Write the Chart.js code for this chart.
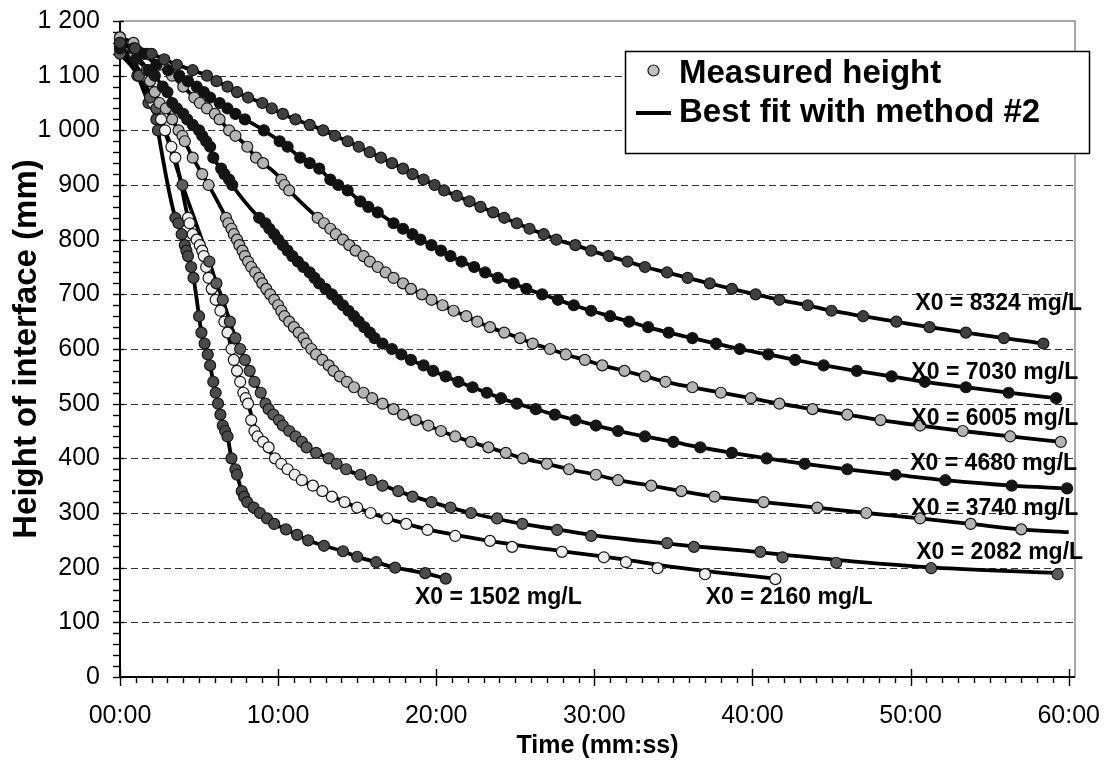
<!DOCTYPE html>
<html>
<head>
<meta charset="utf-8">
<title>Settling curves</title>
<script src="https://cdn.jsdelivr.net/npm/chart.js@4.4.1/dist/chart.umd.min.js"></script>
<style>
  html, body { margin: 0; padding: 0; background: #ffffff; }
  #wrap { width: 1109px; height: 764px; }
</style>
</head>
<body>
<div id="wrap"><canvas id="chart" width="1109" height="764"></canvas></div>
<script>
// Interface height (mm) against settling time (minutes) for eight initial solids concentrations.

const t8324 = [0, 0.95, 2.0, 2.8, 3.6, 4.6, 5.5, 6.1, 6.8, 7.4, 8.1, 9.0, 9.6, 10.3, 11.1, 12.0, 12.85, 13.6, 14.4, 15.1, 15.8, 16.5, 17.2, 17.9, 18.5, 19.2, 19.9, 20.5, 21.3, 22.1, 22.8, 23.6, 24.3, 25.1, 25.9, 26.8, 27.6, 28.8, 29.8, 30.9, 32.1, 33.2, 34.6, 35.9, 37.3, 38.7, 40.2, 41.7, 43.5, 45.0, 47.0, 49.1, 51.2, 53.5, 55.9, 58.4];
const h8324 = [1160, 1150, 1140, 1130, 1120, 1110, 1100, 1090, 1080, 1070, 1060, 1050, 1040, 1030, 1020, 1010, 1000, 990, 980, 970, 960, 950, 940, 930, 920, 910, 900, 890, 880, 870, 860, 850, 840, 830, 820, 810, 800, 790, 780, 770, 760, 750, 740, 730, 720, 710, 700, 690, 680, 670, 660, 650, 640, 630, 620, 610];

const t7030 = [0, 0.85, 1.5, 2.3, 3.05, 3.75, 4.3, 4.85, 5.3, 5.7, 6.3, 6.8, 7.3, 7.9, 9.1, 10.1, 10.6, 11.4, 12.0, 12.6, 13.3, 13.8, 14.4, 15.2, 15.7, 16.3, 17.3, 17.9, 18.5, 19.0, 19.7, 20.3, 20.9, 21.6, 22.4, 23.1, 23.9, 24.9, 25.7, 26.7, 27.7, 28.7, 29.8, 31.0, 32.2, 33.4, 34.7, 36.2, 37.7, 39.2, 41.0, 42.7, 44.5, 46.6, 48.8, 50.9, 53.5, 56.2, 59.2];
const h7030 = [1160, 1150, 1140, 1120, 1110, 1100, 1090, 1080, 1070, 1060, 1050, 1040, 1030, 1020, 1000, 980, 970, 950, 940, 930, 910, 900, 890, 870, 860, 850, 830, 820, 810, 800, 790, 780, 770, 760, 750, 740, 730, 720, 710, 700, 690, 680, 670, 660, 650, 640, 630, 620, 610, 600, 590, 580, 570, 560, 550, 540, 530, 520, 510];

const t6005 = [0, 0.85, 1.7, 2.5, 3.3, 4.0, 4.7, 5.05, 5.5, 6.0, 6.3, 6.9, 7.3, 8.05, 8.6, 9.05, 10.2, 10.4, 10.7, 12.5, 12.9, 13.3, 13.65, 14.1, 14.5, 14.9, 15.4, 15.8, 16.3, 16.8, 17.3, 17.9, 18.4, 19.1, 19.7, 20.4, 21.1, 21.9, 22.6, 23.4, 24.3, 25.3, 26.1, 27.2, 28.2, 29.4, 30.5, 31.9, 33.2, 34.5, 36.2, 38.0, 39.9, 41.7, 43.8, 46.0, 48.1, 50.6, 53.3, 56.3, 59.5];
const h6005 = [1170, 1160, 1140, 1120, 1100, 1080, 1060, 1050, 1040, 1030, 1020, 1000, 990, 970, 950, 940, 910, 900, 890, 840, 830, 820, 810, 800, 790, 780, 770, 760, 750, 740, 730, 720, 710, 700, 690, 680, 670, 660, 650, 640, 630, 620, 610, 600, 590, 580, 570, 560, 550, 540, 530, 520, 510, 500, 490, 480, 470, 460, 450, 440, 430];

const t4680 = [0, 1.0, 1.8, 2.2, 2.7, 3.0, 3.3, 3.6, 4.0, 4.25, 4.6, 5.0, 5.2, 5.45, 5.7, 5.9, 6.4, 6.6, 6.9, 7.1, 8.8, 9.2, 9.45, 9.75, 10.0, 10.3, 10.6, 10.9, 11.25, 11.6, 12.0, 12.3, 12.6, 13.0, 13.4, 13.75, 14.1, 14.45, 14.8, 15.1, 15.45, 15.8, 16.1, 16.6, 17.2, 17.8, 18.4, 19.2, 19.8, 20.6, 21.4, 22.3, 23.2, 24.1, 25.1, 26.3, 27.5, 28.8, 30.1, 31.5, 33.2, 35.0, 36.7, 38.7, 40.9, 43.3, 46.0, 49.05, 52.2, 56.4, 59.9];
const h4680 = [1150, 1130, 1110, 1100, 1080, 1070, 1050, 1040, 1030, 1020, 1010, 1000, 990, 980, 970, 950, 930, 920, 910, 900, 840, 830, 820, 810, 800, 790, 780, 770, 760, 750, 740, 730, 720, 710, 700, 690, 680, 670, 660, 650, 640, 630, 620, 610, 600, 590, 580, 570, 560, 550, 540, 530, 520, 510, 500, 490, 480, 470, 460, 450, 440, 430, 420, 410, 400, 390, 380, 370, 360, 350, 345];

const t3740 = [0, 0.9, 1.7, 1.9, 2.2, 2.5, 2.9, 3.3, 3.7, 3.95, 4.1, 4.6, 5.2, 5.6, 6.7, 6.85, 7.05, 7.2, 7.4, 7.55, 7.75, 7.9, 8.1, 8.3, 8.55, 8.8, 9.0, 9.25, 9.5, 9.75, 10.0, 10.2, 10.4, 10.7, 11.0, 11.3, 11.6, 11.8, 12.1, 12.4, 12.8, 13.2, 13.5, 13.9, 14.35, 14.8, 15.4, 15.95, 16.6, 17.3, 17.9, 18.7, 19.5, 20.3, 21.2, 22.2, 23.3, 24.4, 25.5, 27.0, 28.4, 30.1, 31.5, 33.6, 35.5, 37.6, 40.7, 44.1, 47.2, 50.6, 53.8, 57.0];
const h3740 = [1170, 1140, 1110, 1090, 1070, 1050, 1040, 1020, 1000, 990, 980, 950, 920, 900, 840, 830, 820, 810, 800, 790, 780, 770, 760, 750, 740, 730, 720, 710, 700, 690, 680, 670, 660, 650, 640, 630, 620, 610, 600, 590, 580, 570, 560, 550, 540, 530, 520, 510, 500, 490, 480, 470, 460, 450, 440, 430, 420, 410, 400, 390, 380, 370, 360, 350, 340, 330, 320, 310, 300, 290, 280, 270];
// the fitted 3740 curve runs on past the last reading
const fitTailT3740 = [60];
const fitTailH3740 = [265];

const t2082 = [0, 1.2, 1.9, 2.3, 3.95, 5.65, 6.1, 6.5, 6.95, 7.3, 7.6, 7.9, 8.2, 8.5, 8.9, 9.2, 9.4, 9.7, 10.05, 10.3, 10.7, 11.1, 11.5, 11.8, 12.4, 13.2, 13.7, 14.3, 15.2, 15.9, 16.6, 17.6, 18.5, 19.7, 20.9, 22.2, 23.85, 25.45, 27.65, 29.8, 34.6, 36.3, 40.5, 41.9, 45.3, 51.3, 59.3];
const h2082 = [1140, 1100, 1060, 1040, 900, 760, 720, 690, 650, 620, 600, 580, 560, 540, 520, 500, 490, 480, 470, 460, 450, 440, 430, 420, 410, 400, 390, 380, 370, 360, 350, 340, 330, 320, 310, 300, 290, 280, 269, 258, 245, 238, 229, 219, 209, 199, 188];
// fitted 2082 curve
const fitT2082 = [0, 1.2, 1.9, 2.3, 3.95, 5.65, 6.1, 6.5, 6.95, 7.3, 7.6, 7.9, 8.2, 8.5, 8.9, 9.2, 9.7, 10.3, 11.1, 11.8, 13.2, 14.3, 15.9, 17.6, 19.7, 22.2, 25.45, 27.65, 30.0, 33.0, 36.0, 39.5, 42.5, 46.5, 51.5, 59.3];
const fitH2082 = [1140, 1100, 1060, 1040, 900, 760, 720, 690, 650, 620, 600, 580, 560, 540, 520, 500, 480, 460, 440, 420, 400, 380, 360, 340, 320, 300, 280, 270, 259, 249, 240, 231, 222, 211, 200, 190];

const t2160 = [0, 1.4, 2.1, 2.6, 2.85, 3.25, 3.5, 4.3, 4.4, 4.6, 4.85, 5.05, 5.2, 5.3, 5.45, 5.6, 5.8, 6.05, 6.35, 6.6, 6.8, 7.05, 7.2, 7.4, 7.6, 7.8, 7.95, 8.1, 8.3, 8.5, 8.7, 9.05, 9.4, 9.8, 10.2, 10.6, 11.05, 11.5, 12.2, 12.8, 13.4, 14.2, 15.0, 15.85, 16.9, 18.1, 19.45, 21.2, 23.4, 24.8, 27.95, 30.6, 32.0, 34.0, 37.0, 41.45];
const h2160 = [1160, 1100, 1050, 1020, 1000, 970, 950, 840, 830, 810, 800, 790, 780, 770, 750, 730, 710, 690, 670, 650, 630, 600, 580, 560, 540, 520, 510, 500, 470, 450, 440, 430, 420, 400, 390, 380, 370, 360, 350, 340, 330, 320, 310, 300, 290, 280, 269, 258, 249, 238, 229, 219, 210, 199, 188, 179];
// fitted 2160 curve
const fitT2160 = [0, 1.4, 2.1, 2.6, 2.85, 3.25, 3.5, 4.3, 4.4, 4.6, 4.85, 5.05, 5.2, 5.3, 5.45, 5.6, 5.8, 6.05, 6.35, 6.6, 6.8, 7.05, 7.2, 7.4, 7.6, 7.8, 8.1, 8.5, 9.05, 9.8, 10.6, 11.5, 12.8, 14.2, 15.85, 18.1, 19.45, 21.2, 23.2, 25.4, 28.0, 30.6, 32.8, 34.8, 37.6, 41.45];
const fitH2160 = [1160, 1100, 1050, 1020, 1000, 970, 950, 840, 830, 810, 800, 790, 780, 770, 750, 730, 710, 690, 670, 650, 630, 600, 580, 560, 540, 520, 500, 460, 430, 400, 380, 360, 340, 320, 300, 280, 270, 260, 250, 240, 230, 220, 211, 202, 192, 180];

const t1502 = [0, 1.1, 1.8, 2.3, 2.4, 3.5, 3.7, 3.9, 4.1, 4.2, 4.3, 4.5, 4.65, 5.0, 5.15, 5.35, 5.55, 5.7, 5.9, 6.05, 6.2, 6.35, 6.5, 6.65, 6.8, 7.05, 7.3, 7.4, 7.7, 7.85, 8.05, 8.45, 8.85, 9.3, 9.75, 10.5, 11.2, 11.9, 12.9, 14.1, 15.0, 16.2, 17.4, 19.3, 20.6];
const h1502 = [1150, 1100, 1050, 1020, 1000, 840, 830, 810, 790, 780, 770, 750, 730, 660, 630, 610, 590, 570, 540, 520, 500, 480, 460, 450, 440, 400, 380, 370, 340, 330, 320, 310, 300, 290, 280, 270, 260, 250, 240, 230, 220, 210, 200, 190, 180];

const xTickValues = [0, 10, 20, 30, 40, 50, 60];
const yTickValues = [0, 100, 200, 300, 400, 500, 600, 700, 800, 900, 1000, 1100, 1200];
const legendLabels = ['Measured height', 'Best fit with method #2'];

// curve captions, anchored in data units (left edge, text baseline)
const captions = [
  { text: 'X0 = 8324 mg/L', t: 50.3,  h: 672 },
  { text: 'X0 = 7030 mg/L', t: 50.05, h: 546 },
  { text: 'X0 = 6005 mg/L', t: 50.05, h: 461 },
  { text: 'X0 = 4680 mg/L', t: 49.98, h: 378 },
  { text: 'X0 = 3740 mg/L', t: 50.05, h: 296 },
  { text: 'X0 = 2082 mg/L', t: 50.36, h: 215 },
  { text: 'X0 = 1502 mg/L', t: 18.65, h: 133 },
  { text: 'X0 = 2160 mg/L', t: 37.04, h: 133 }
];

const FONT = '"Liberation Sans", Arial, Helvetica, sans-serif';

const curves = [
  { t: t8324, h: h8324, fill: '#404040' },
  { t: t7030, h: h7030, fill: '#111111' },
  { t: t6005, h: h6005, fill: '#b4b4b4' },
  { t: t4680, h: h4680, fill: '#161616' },
  { t: t3740, h: h3740, fill: '#b4b4b4', fitT: t3740.concat(fitTailT3740), fitH: h3740.concat(fitTailH3740) },
  { t: t2082, h: h2082, fill: '#5c5c5c', fitT: fitT2082, fitH: fitH2082 },
  { t: t2160, h: h2160, fill: '#efefef', fitT: fitT2160, fitH: fitH2160 },
  { t: t1502, h: h1502, fill: '#4a4a4a' }
];

const toXY = (ts, hs) => ts.map((v, i) => ({ x: v, y: hs[i] }));

const datasets = [];
curves.forEach(c => {
  datasets.push({
    data: toXY(c.fitT || c.t, c.fitH || c.h),
    showLine: true,
    borderColor: '#000000',
    borderWidth: 3.8,
    pointRadius: 0,
    cubicInterpolationMode: 'monotone',
    fill: false,
    clip: false,
    order: 2
  });
  datasets.push({
    data: toXY(c.t, c.h),
    showLine: false,
    pointRadius: 5.5,
    pointBorderWidth: 1.2,
    pointBackgroundColor: c.fill,
    pointBorderColor: '#151515',
    clip: false,
    order: 1
  });
});

const fmtTime = v => String(v).padStart(2, '0') + ':00';
const fmtMm = v => v >= 1000 ? Math.floor(v / 1000) + ' ' + String(v % 1000).padStart(3, '0') : String(v);

const decor = {
  id: 'decor',
  beforeDatasetsDraw(chart) {
    const { ctx, chartArea: a, scales: { x, y } } = chart;
    ctx.save();
    // dashed horizontal grid
    ctx.strokeStyle = '#333333';
    ctx.lineWidth = 1;
    ctx.setLineDash([7, 4]);
    yTickValues.forEach(v => {
      if (v <= 0 || v >= 1200) return;
      const py = Math.round(y.getPixelForValue(v)) + 0.5;
      ctx.beginPath();
      ctx.moveTo(a.left, py);
      ctx.lineTo(a.right, py);
      ctx.stroke();
    });
    ctx.setLineDash([]);
    // grey frame on top and right
    ctx.strokeStyle = '#8c8c8c';
    ctx.lineWidth = 1.5;
    ctx.beginPath();
    ctx.moveTo(a.left, a.top);
    ctx.lineTo(a.right, a.top);
    ctx.lineTo(a.right, a.bottom);
    ctx.stroke();
    // axis lines
    ctx.strokeStyle = '#000000';
    ctx.lineWidth = 2;
    ctx.beginPath();
    ctx.moveTo(a.left, a.top);
    ctx.lineTo(a.left, a.bottom);
    ctx.lineTo(a.right, a.bottom);
    ctx.stroke();
    // tick marks: major ones cross the axis, minor ones sit outside
    ctx.lineWidth = 1.4;
    for (let v = 0; v <= 1200; v += 20) {
      const py = Math.round(y.getPixelForValue(v)) + 0.5;
      const major = v % 100 === 0;
      ctx.beginPath();
      ctx.moveTo(a.left - 7, py);
      ctx.lineTo(a.left + (major ? 4 : 0), py);
      ctx.stroke();
    }
    for (let m = 0; m <= 60; m += 1) {
      const px = Math.round(x.getPixelForValue(m)) + 0.5;
      const major = m % 10 === 0;
      ctx.beginPath();
      ctx.moveTo(px, a.bottom + (major ? 9 : 6));
      ctx.lineTo(px, a.bottom - (major ? 8 : 0));
      ctx.stroke();
    }
    ctx.restore();
  },
  afterDatasetsDraw(chart) {
    const { ctx, chartArea: a, scales: { x, y } } = chart;
    ctx.save();
    ctx.fillStyle = '#000000';
    // curve captions
    ctx.font = 'bold 23px ' + FONT;
    ctx.textAlign = 'left';
    ctx.textBaseline = 'alphabetic';
    captions.forEach(c => {
      ctx.fillText(c.text, x.getPixelForValue(c.t), y.getPixelForValue(c.h));
    });
    // axis titles
    ctx.font = 'bold 25px ' + FONT;
    ctx.textAlign = 'center';
    ctx.textBaseline = 'middle';
    ctx.fillText('Time (mm:ss)', (a.left + a.right) / 2, 746);
    ctx.save();
    ctx.translate(27, (a.top + a.bottom) / 2);
    ctx.rotate(-Math.PI / 2);
    ctx.font = 'bold 33px ' + FONT;
    ctx.fillText('Height of interface (mm)', 0, 0);
    ctx.restore();
    // legend box
    ctx.fillStyle = '#ffffff';
    ctx.fillRect(625, 51, 464, 102);
    ctx.strokeStyle = '#000000';
    ctx.lineWidth = 1.5;
    ctx.strokeRect(625.5, 51.5, 464, 102);
    ctx.beginPath();
    ctx.arc(653.5, 70.5, 5.5, 0, Math.PI * 2);
    ctx.fillStyle = '#c0c0c0';
    ctx.fill();
    ctx.lineWidth = 1.2;
    ctx.strokeStyle = '#151515';
    ctx.stroke();
    ctx.beginPath();
    ctx.lineWidth = 3.8;
    ctx.strokeStyle = '#000000';
    ctx.moveTo(636, 113);
    ctx.lineTo(671, 113);
    ctx.stroke();
    ctx.fillStyle = '#000000';
    ctx.font = 'bold 33px ' + FONT;
    ctx.textAlign = 'left';
    ctx.textBaseline = 'alphabetic';
    ctx.fillText(legendLabels[0], 679, 82.5);
    ctx.fillText(legendLabels[1], 679, 121.5);
    ctx.restore();
  }
};

new Chart(document.getElementById('chart'), {
  type: 'line',
  data: { datasets },
  options: {
    responsive: false,
    animation: false,
    devicePixelRatio: 1,
    events: [],
    layout: { padding: { top: 21, right: 34, left: 0, bottom: 0 } },
    plugins: { legend: { display: false }, tooltip: { enabled: false } },
    scales: {
      x: {
        type: 'linear',
        min: 0,
        max: 60.4,
        grid: { display: false, drawTicks: false },
        border: { display: false },
        afterBuildTicks: s => { s.ticks = xTickValues.map(v => ({ value: v })); },
        afterFit: s => { s.height = 87; s.paddingLeft = 0; s.paddingRight = 0; },
        ticks: {
          autoSkip: false,
          maxRotation: 0,
          padding: 24,
          color: '#000000',
          font: { family: FONT, size: 25 },
          callback: v => fmtTime(v)
        }
      },
      y: {
        type: 'linear',
        min: 0,
        max: 1200,
        grid: { display: false, drawTicks: false },
        border: { display: false },
        afterBuildTicks: s => { s.ticks = yTickValues.map(v => ({ value: v })); },
        afterFit: s => { s.width = 120; s.paddingTop = 0; s.paddingBottom = 0; },
        ticks: {
          autoSkip: false,
          padding: 20,
          color: '#000000',
          font: { family: FONT, size: 25 },
          callback: v => fmtMm(v)
        }
      }
    }
  },
  plugins: [decor]
});
</script>
</body>
</html>
